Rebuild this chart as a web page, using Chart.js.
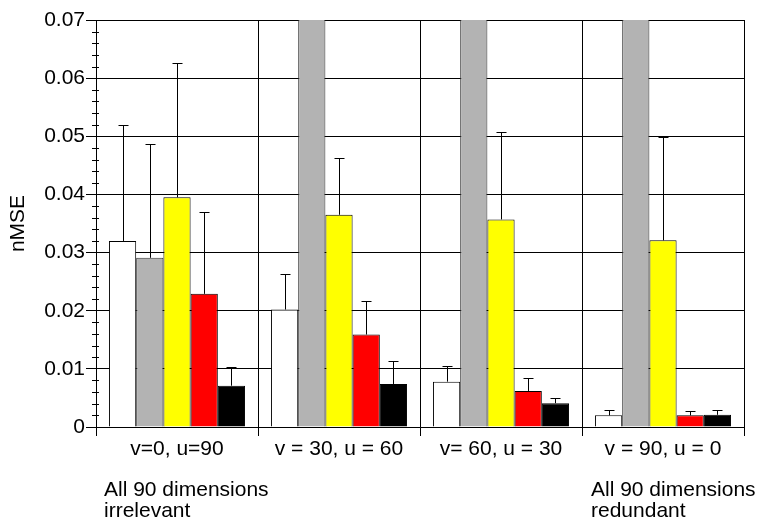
<!DOCTYPE html>
<html>
<head>
<meta charset="utf-8">
<script src="https://cdn.jsdelivr.net/npm/chart.js@4"></script>
<style>
  body { margin: 0; background: #fff; }
  #wrap { position: relative; width: 771px; height: 524px; font-family: "Liberation Sans", Arial, sans-serif; }
  .note { position: absolute; font-size: 21px; line-height: 21px; color: #000; white-space: nowrap; }
</style>
</head>
<body>
<div id="wrap">
  <canvas id="nmseChart" width="771" height="524"></canvas>
  <div class="note" style="left:104px; top:478px;">All 90 dimensions<br>irrelevant</div>
  <div class="note" style="left:591px; top:478px;">All 90 dimensions<br>redundant</div>
</div>
<script>
// settings on the x axis
const categories = ['v=0, u=90', 'v = 30, u = 60', 'v= 60, u = 30', 'v = 90, u = 0'];

// mean nMSE per method (gray goes off the top in the last three groups)
const whiteVals  = [0.0320, 0.0202, 0.0078, 0.0020];
const grayVals   = [0.0291, 0.1000, 0.1000, 0.1000];
const yellowVals = [0.0395, 0.0365, 0.0357, 0.0321];
const redVals    = [0.0229, 0.0159, 0.0062, 0.0020];
const blackVals  = [0.0071, 0.0074, 0.0041, 0.0021];

// top of the error bar for each bar
const whiteErr  = [0.0520, 0.0263, 0.0105, 0.0030];
const grayErr   = [0.0487, null, null, null];
const yellowErr = [0.0626, 0.0462, 0.0508, 0.0498];
const redErr    = [0.0369, 0.0217, 0.0084, 0.0028];
const blackErr  = [0.0104, 0.0114, 0.0050, 0.0030];

const yTicks = [0, 0.01, 0.02, 0.03, 0.04, 0.05, 0.06, 0.07];

const errTops = [whiteErr, grayErr, yellowErr, redErr, blackErr];

// upper error bars with a cap
const errorBars = {
    id: 'errorBars',
    afterDatasetsDraw(chart) {
        const ctx = chart.ctx;
        const y = chart.scales.y;
        const area = chart.chartArea;
        ctx.save();
        ctx.beginPath();
        ctx.rect(area.left, area.top, area.right - area.left, area.bottom - area.top);
        ctx.clip();
        ctx.strokeStyle = '#000';
        ctx.lineWidth = 1;
        chart.data.datasets.forEach((ds, i) => {
            const meta = chart.getDatasetMeta(i);
            meta.data.forEach((bar, j) => {
                const top = errTops[i][j];
                if (top == null) return;
                const x = Math.round(bar.x) + 0.5;
                const yTop = Math.round(y.getPixelForValue(top)) + 0.5;
                ctx.beginPath();
                ctx.moveTo(x, bar.y);
                ctx.lineTo(x, yTop);
                ctx.moveTo(x - 5, yTop);
                ctx.lineTo(x + 5, yTop);
                ctx.stroke();
            });
        });
        ctx.restore();
    }
};

// small ticks every 0.002 on the y axis
const minorTicks = {
    id: 'minorTicks',
    afterDraw(chart) {
        const ctx = chart.ctx;
        const y = chart.scales.y;
        const x0 = chart.chartArea.left;
        ctx.save();
        ctx.strokeStyle = '#000';
        ctx.lineWidth = 1;
        for (let k = 1; k < 35; k++) {
            if (k % 5 === 0) continue;
            const py = Math.round(y.getPixelForValue(k * 0.002)) + 0.5;
            ctx.beginPath();
            ctx.moveTo(x0 - 4, py);
            ctx.lineTo(x0 + 3, py);
            ctx.stroke();
        }
        ctx.restore();
    }
};

const font = { family: '"Liberation Sans", Arial, sans-serif', size: 21 };

new Chart(document.getElementById('nmseChart'), {
    type: 'bar',
    data: {
        labels: categories,
        datasets: [
            { data: whiteVals,  backgroundColor: '#ffffff', borderColor: '#000', borderWidth: 1 },
            { data: grayVals,   backgroundColor: '#b3b3b3', borderColor: '#333', borderWidth: 1 },
            { data: yellowVals, backgroundColor: '#ffff00', borderColor: '#000', borderWidth: 1 },
            { data: redVals,    backgroundColor: '#ff0000', borderColor: '#000', borderWidth: 1 },
            { data: blackVals,  backgroundColor: '#000000', borderColor: '#000', borderWidth: 1 }
        ]
    },
    options: {
        responsive: false,
        animation: false,
        layout: { padding: { top: 20, right: 27, bottom: 0, left: 0 } },
        datasets: { bar: { categoryPercentage: 0.84, barPercentage: 1.0 } },
        plugins: {
            legend: { display: false },
            tooltip: { enabled: false }
        },
        scales: {
            x: {
                grid: { color: '#000', lineWidth: 1, offset: true, tickLength: 9 },
                border: { color: '#000', width: 1 },
                ticks: { color: '#000', font: font, padding: 1, maxRotation: 0, autoSkip: false },
                afterFit(scale) { scale.height = 97; }
            },
            y: {
                min: 0,
                max: 0.07,
                afterBuildTicks(scale) { scale.ticks = yTicks.map(v => ({ value: v })); },
                grid: { color: '#000', lineWidth: 1, tickLength: 10 },
                border: { color: '#000', width: 1 },
                ticks: {
                    color: '#000',
                    font: font,
                    padding: 1,
                    callback: v => v === 0 ? '0' : v.toFixed(2)
                },
                title: { display: true, text: 'nMSE', color: '#000', font: font, padding: { top: 6, bottom: 0 } },
                afterFit(scale) { scale.width = 96; }
            }
        }
    },
    plugins: [errorBars, minorTicks]
});
</script>
</body>
</html>
